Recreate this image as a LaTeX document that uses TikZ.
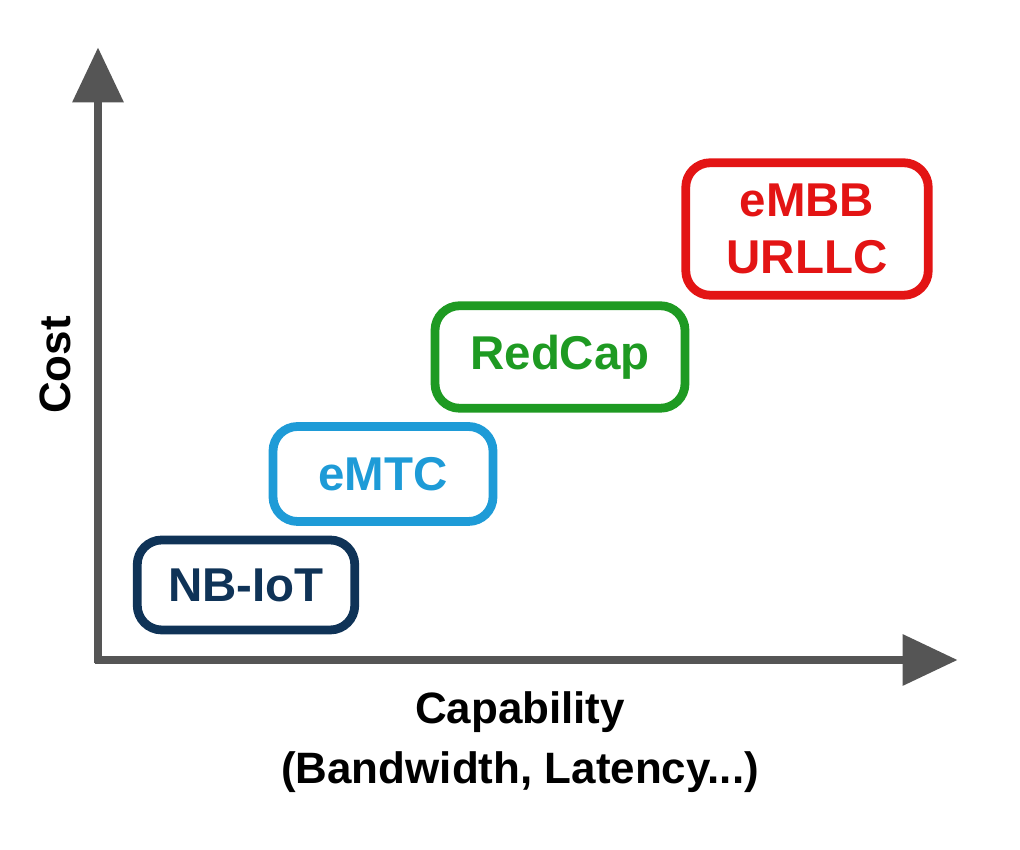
\documentclass[tikz,border=0pt]{standalone}
\usepackage{fontspec}
\setmainfont{Liberation Sans}
\usetikzlibrary{arrows.meta}

\definecolor{navy}{HTML}{0F3357}
\definecolor{skyblue}{HTML}{1E9BD7}
\definecolor{leafgreen}{HTML}{1E9A22}
\definecolor{alertred}{HTML}{E31414}
\definecolor{axisgray}{HTML}{555555}

\tikzset{
  tier/.style={draw, line width=5pt, rounded corners=14pt, font=\fontsize{27}{32}\selectfont\bfseries, align=center, inner sep=0pt},
  axis/.style={line width=4pt, axisgray, -{Triangle[length=1.1cm, width=1cm]}},
  lbl/.style={font=\fontsize{25}{34}\selectfont\bfseries, align=center}
}

\begin{document}
\begin{tikzpicture}
    \useasboundingbox (0,0) rectangle (20.4,17);

    %axes
    \coordinate (origin) at (1.96,3.8);
    \coordinate (ytip) at (1.96,16.05);
    \coordinate (xtip) at (19.15,3.8);
    \draw[axis] (1.96,3.73) -- (ytip);
    \draw[axis] (1.89,3.8) -- (xtip);

    \node[lbl, rotate=90] (cost) at (1.1,9.7) {Cost};
    \node[lbl] (capability) at (10.4,2.15) {Capability\\(Bandwidth, Latency...)};

    %technology tiers
    \node[tier, navy, minimum width=4.35cm, minimum height=1.8cm] (nbiot) at (4.92,5.3) {NB-IoT};
    \node[tier, skyblue, minimum width=4.4cm, minimum height=1.9cm] (emtc) at (7.66,7.52) {eMTC};
    \node[tier, leafgreen, minimum width=5cm, minimum height=2.05cm] (redcap) at (11.2,9.86) {RedCap};
    \node[tier, alertred, minimum width=4.85cm, minimum height=2.65cm] (embb) at (16.14,12.42) {eMBB\\URLLC};
\end{tikzpicture}
\end{document}
